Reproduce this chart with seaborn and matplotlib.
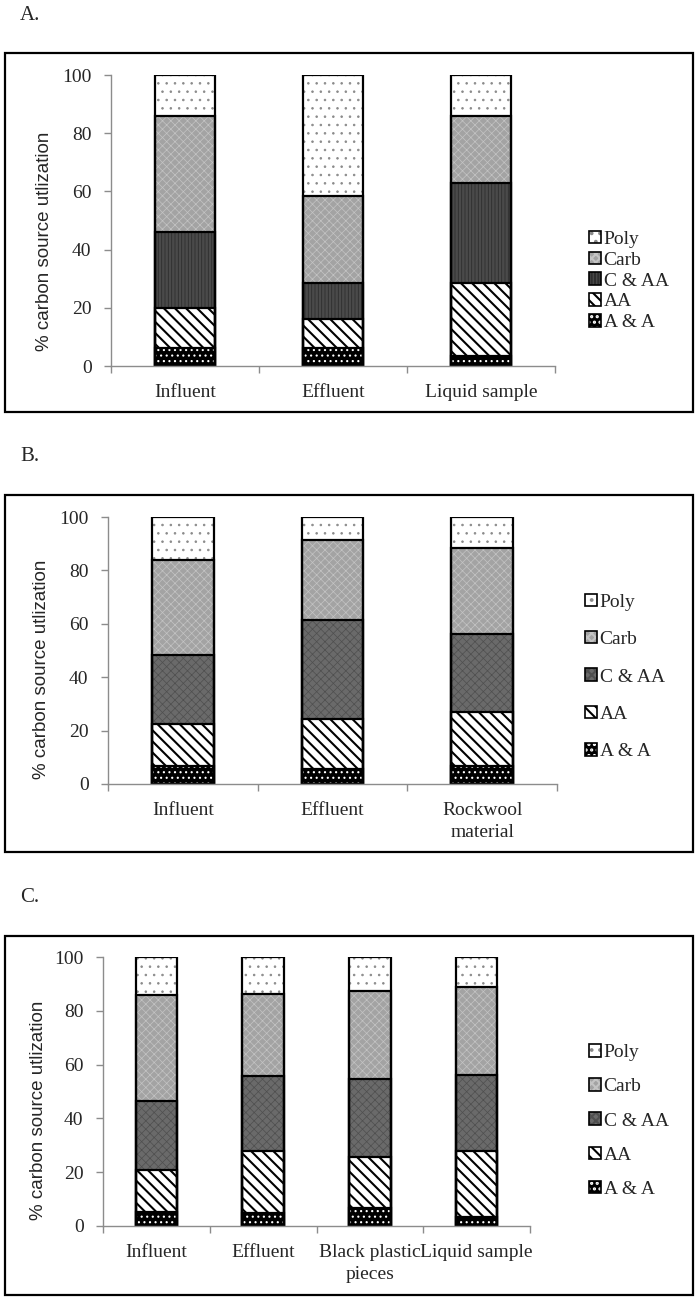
import numpy as np
import pandas as pd
import matplotlib
matplotlib.use("Agg")
import matplotlib.pyplot as plt
from matplotlib.patches import Patch, Rectangle
from matplotlib.legend_handler import HandlerTuple
import seaborn as sns

# ---- data (% of carbon source utilization) ----
groups = ["A & A", "AA", "C & AA", "Carb", "Poly"]

cats_a = ["Influent", "Effluent", "Liquid sample"]
a_aa = [6.1, 6.1, 3.5]
a_amino = [13.7, 9.9, 24.9]
a_caa = [26.1, 12.4, 34.6]
a_carb = [40.0, 30.0, 22.9]
a_poly = [14.1, 41.6, 14.1]

cats_b = ["Influent", "Effluent", "Rockwool\nmaterial"]
b_aa = [6.7, 5.5, 6.7]
b_amino = [15.6, 18.9, 20.3]
b_caa = [26.1, 37.2, 29.0]
b_carb = [35.4, 29.7, 32.5]
b_poly = [16.2, 8.7, 11.5]

cats_c = ["Influent", "Effluent", "Black plastic\npieces", "Liquid sample"]
c_aa = [5.3, 5.0, 6.6, 3.2]
c_amino = [15.5, 22.9, 19.2, 24.7]
c_caa = [25.7, 27.9, 29.0, 28.3]
c_carb = [39.4, 30.4, 32.4, 32.5]
c_poly = [14.1, 13.8, 12.8, 11.3]

sns.set_style("ticks")
plt.rcParams["font.family"] = ["Liberation Serif", "DejaVu Serif"]
plt.rcParams["hatch.linewidth"] = 1.5

W, H = 700, 1301
fig = plt.figure(figsize=(W / 100, H / 100), dpi=100)

# face colour, hatch, hatch colour, hatch linewidth
sty_a = {
    "A & A": ("black", "...", "white", 0.8),
    "AA": ("white", "\\\\\\", "black", 1.5),
    "C & AA": ("#4a4a4a", "|||||", "#2e2e2e", 0.6),
    "Carb": ("#a3a3a3", "xxxx", "#c4c4c4", 0.5),
    "Poly": ("white", "..", "#8a8a8a", 0.6),
}
sty_bc = dict(sty_a)
sty_bc["C & AA"] = ("#6a6a6a", "xxxx", "#4f4f4f", 0.5)


def px_axes(l, r, t, b):
    return fig.add_axes([l / W, 1 - b / H, (r - l) / W, (b - t) / H])


def panel(ax, cats, layers, sty, width, leg_x, leg_y, spacing):
    cum = np.cumsum(np.array(layers), axis=0)
    handles = []
    for i in reversed(range(len(groups))):
        face, hatch, hcol, hlw = sty[groups[i]]
        df = pd.DataFrame({"cat": range(len(cats)), "val": cum[i]})
        n0 = len(ax.patches)
        sns.barplot(data=df, x="cat", y="val", color=face, saturation=1,
                    width=width, errorbar=None, ax=ax)
        for p in ax.patches[n0:]:
            p.set_hatch(hatch)
            p.set_edgecolor(hcol)
            p.set_linewidth(0)
            if hasattr(p, "set_hatch_linewidth"):
                p.set_hatch_linewidth(hlw)
        fill = Patch(facecolor=face, edgecolor=hcol, hatch=hatch, linewidth=0)
        if hasattr(fill, "set_hatch_linewidth"):
            fill.set_hatch_linewidth(hlw)
        edge = Patch(facecolor="none", edgecolor="black", linewidth=1.2)
        handles.append(((fill, edge), groups[i]))
    for i in range(len(groups)):
        df = pd.DataFrame({"cat": range(len(cats)), "val": cum[i]})
        sns.barplot(data=df, x="cat", y="val", color="black", fill=False,
                    linewidth=1.6, width=width, errorbar=None, ax=ax)

    n = len(cats)
    ax.set_xlim(-0.5, n - 0.5)
    ax.set_ylim(0, 100)
    ax.set_yticks(range(0, 101, 20))
    ax.set_xticks(range(n))
    ax.set_xticklabels(cats, fontsize=14, linespacing=1.35)
    ax.set_xticks(np.arange(-0.5, n, 1), minor=True)
    ax.tick_params(axis="x", which="major", length=0, pad=13)
    ax.tick_params(axis="x", which="minor", length=5, width=1, color="#8c8c8c")
    ax.tick_params(axis="y", length=5, width=1, color="#8c8c8c", pad=9, labelsize=14)
    ax.set_xlabel("")
    ax.set_ylabel("% carbon source utlization", fontsize=13.5,
                  family=["Liberation Sans", "DejaVu Sans"])
    ax.yaxis.set_label_coords(-0.13, 0.43)
    for s in ["top", "right"]:
        ax.spines[s].set_visible(False)
    for s in ["left", "bottom"]:
        ax.spines[s].set_color("#8c8c8c")
        ax.spines[s].set_linewidth(1)

    ax.legend([h for h, _ in handles], [l for _, l in handles],
              handler_map={tuple: HandlerTuple(ndivide=1, pad=0)},
              loc="center left", bbox_to_anchor=(leg_x / W, 1 - leg_y / H),
              bbox_transform=fig.transFigure, frameon=False, fontsize=14,
              handlelength=0.6, handleheight=0.6, handletextpad=0.15,
              labelspacing=spacing, borderpad=0, borderaxespad=0)


ax_a = px_axes(111, 555, 75, 366)
panel(ax_a, cats_a, [a_aa, a_amino, a_caa, a_carb, a_poly], sty_a, 0.41,
      589, 281, 0.2)
ax_b = px_axes(108, 557, 517, 784)
panel(ax_b, cats_b, [b_aa, b_amino, b_caa, b_carb, b_poly], sty_bc, 0.41,
      585, 677, 1.05)
ax_c = px_axes(103, 530, 957, 1226)
panel(ax_c, cats_c, [c_aa, c_amino, c_caa, c_carb, c_poly], sty_bc, 0.39,
      589, 1121, 0.88)

# boxes around the panels and panel letters
for top, bot, letter, ly in [(53, 412, "A.", 16), (495, 852, "B.", 456),
                             (936, 1295, "C.", 898)]:
    fig.add_artist(Rectangle((5 / W, 1 - bot / H), 688 / W, (bot - top) / H,
                             transform=fig.transFigure, fill=False,
                             edgecolor="black", linewidth=1.6))
    fig.text(20 / W, 1 - ly / H, letter, fontsize=15, va="center", ha="left")

fig.savefig("out.png", dpi=100, facecolor="white")
